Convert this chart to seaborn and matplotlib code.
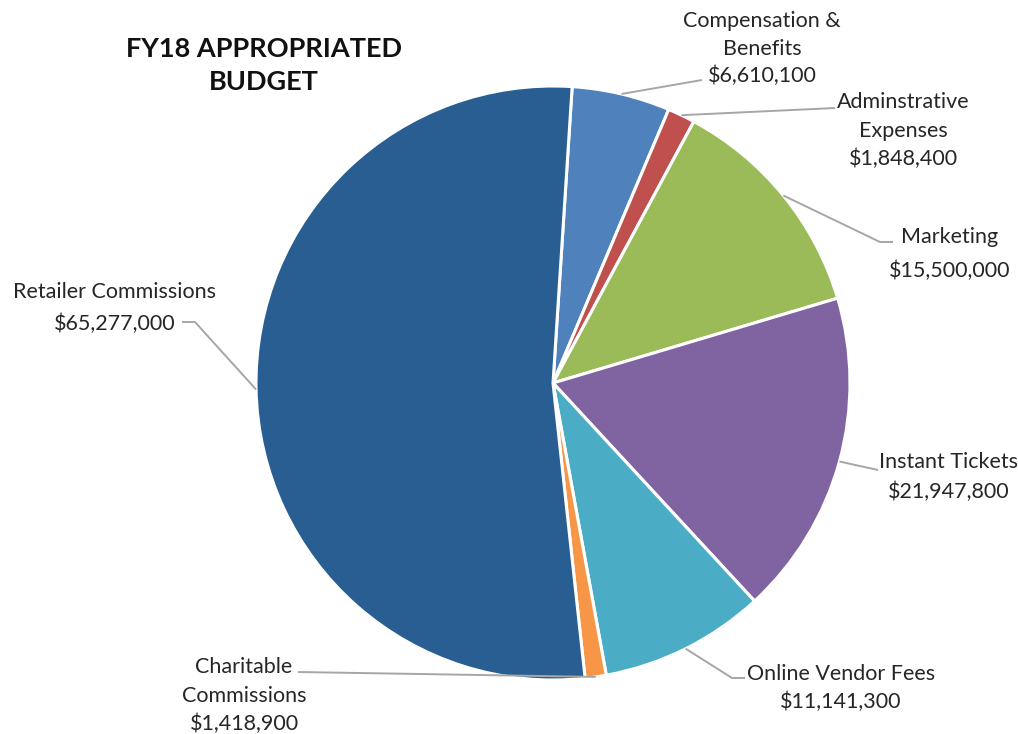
import matplotlib
matplotlib.use("Agg")
import matplotlib.pyplot as plt
import seaborn as sns
import numpy as np

# ---- data ----
categories = ["Compensation &\nBenefits", "Adminstrative\nExpenses", "Marketing",
              "Instant Tickets", "Online Vendor Fees", "Charitable\nCommissions",
              "Retailer Commissions"]
values = [6610100, 1848400, 15500000, 21947800, 11141300, 1418900, 65277000]
colors = ["#4F81BD", "#C0504D", "#9BBB59", "#8064A2", "#4BACC6", "#F79646", "#285E91"]
title_lines = ["FY18 APPROPRIATED", "BUDGET"]

sns.set_theme(style="white")
plt.rcParams['font.family'] = ['Lato', 'DejaVu Sans']

W, H = 1018, 734
fig = plt.figure(figsize=(W / 100, H / 100), dpi=100)
ax = fig.add_axes([0, 0, 1, 1])

cx, cy, R = 553, 383, 297
wedges, _ = ax.pie(values, colors=colors, startangle=86.3, counterclock=False,
                   center=(cx, H - cy), radius=R,
                   wedgeprops=dict(edgecolor="white", linewidth=2.2))
ax.set_xlim(0, W)
ax.set_ylim(0, H)
ax.set_aspect("equal")
ax.axis("off")

def fmt(v):
    return "${:,}".format(v)

# label layout (pixels from top-left): text centre x, baselines, leader knee points
layout = [
    dict(x=762, base=[27, 55, 82], pts=[(702, 80)]),
    dict(x=903, base=[108, 137, 165], pts=[(835, 108)]),
    dict(x=950, base=[243, 277], pts=[(880, 242), (893, 242)]),
    dict(x=949, base=[468, 498], pts=[(878, 470)]),
    dict(x=841, base=[680, 708], pts=[(732, 678), (745, 678)]),
    dict(x=244, base=[673, 702, 730], pts=[(298, 672)]),
    dict(x=115, base=[298, 330], pts=[(195, 322), (182, 322)]),
]

line_color = "#A6A6A6"
text_color = "#262626"
for w, cat, v, lay in zip(wedges, categories, values, layout):
    mid = np.deg2rad((w.theta1 + w.theta2) / 2)
    sx = cx + R * np.cos(mid)
    sy = cy - R * np.sin(mid)
    xs = [sx] + [p[0] for p in lay["pts"]]
    ys = [H - sy] + [H - p[1] for p in lay["pts"]]
    ax.plot(xs, ys, color=line_color, lw=1.4, solid_capstyle="butt")
    lines = cat.split("\n") + [fmt(v)]
    for txt, b in zip(lines, lay["base"]):
        ax.text(lay["x"], H - b, txt, ha="center", va="baseline",
                fontsize=15.5, color=text_color)

for txt, b in zip(title_lines, [57, 90]):
    ax.text(264, H - b, txt, ha="center", va="baseline", fontsize=19.5,
            fontweight="bold", color="#111111")

fig.savefig("out.png", dpi=100)
